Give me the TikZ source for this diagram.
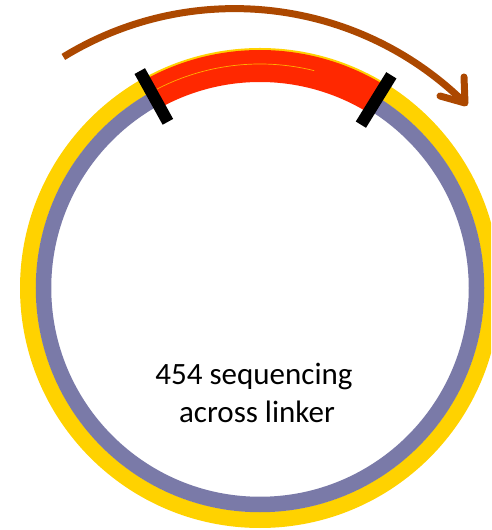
\documentclass[tikz,border=0pt]{standalone}
\usepackage{fontspec}
\setmainfont{Carlito}
\usetikzlibrary{calc}
\definecolor{ringyellow}{RGB}{255,210,0}
\definecolor{ringpurple}{RGB}{122,122,168}
\definecolor{linkred}{RGB}{255,40,0}
\definecolor{arrowbrown}{RGB}{172,72,0}
\tikzset{
  ring/.style={line width=#1},
  barmark/.style={line width=12, black},
  bigarrow/.style={line width=7, arrowbrown, line cap=round, line join=round},
  labeltext/.style={font=\fontsize{31}{38}\selectfont, inner sep=0, anchor=base},
}
\begin{document}
\begin{tikzpicture}[x=1pt,y=1pt]
\useasboundingbox (0,0) rectangle (491,530);
\clip (0,0) rectangle (491,530);
\fill[white] (0,0) rectangle (491,530);
\coordinate (c) at (260,242);
\begin{scope}[shift={(c)}]
  % plasmid rings
  \draw[ring=16, ringyellow] (0,0) circle[radius=232];
  \draw[ring=15.5, ringpurple] (0,0) circle[radius=216.5];
  % insert (red)
  \draw[ring=32, linkred] (119:222) arc[start angle=119, end angle=58, radius=222];
  \draw[line width=0.7, ringyellow, opacity=0.8] (118:224) arc[start angle=118, end angle=76, radius=224];
  % linker marks
  \coordinate (l1) at (119:190); \coordinate (l2) at (119:248);
  \coordinate (r1) at (58.3:192); \coordinate (r2) at (58.3:250);
  \draw[barmark] (l1) -- (l2);
  \draw[barmark] (r1) -- (r2);
\end{scope}
% sequencing direction arrow
\coordinate (ac) at (234.7,193.4);
\coordinate (astart) at ($(ac)+(121.5:328)$);
\coordinate (tip) at (465,427);
\coordinate (arm1) at (440,434);
\coordinate (arm2) at (464,453);
\draw[bigarrow, line cap=butt] (astart) arc[start angle=121.5, end angle=45.4, radius=328];
\draw[bigarrow] (arm1) -- (tip) -- (arm2);
% label
\node[labeltext] (label1) at (254,145) {454 sequencing};
\node[labeltext] (label2) at (257,107) {across linker};
\end{tikzpicture}
\end{document}
